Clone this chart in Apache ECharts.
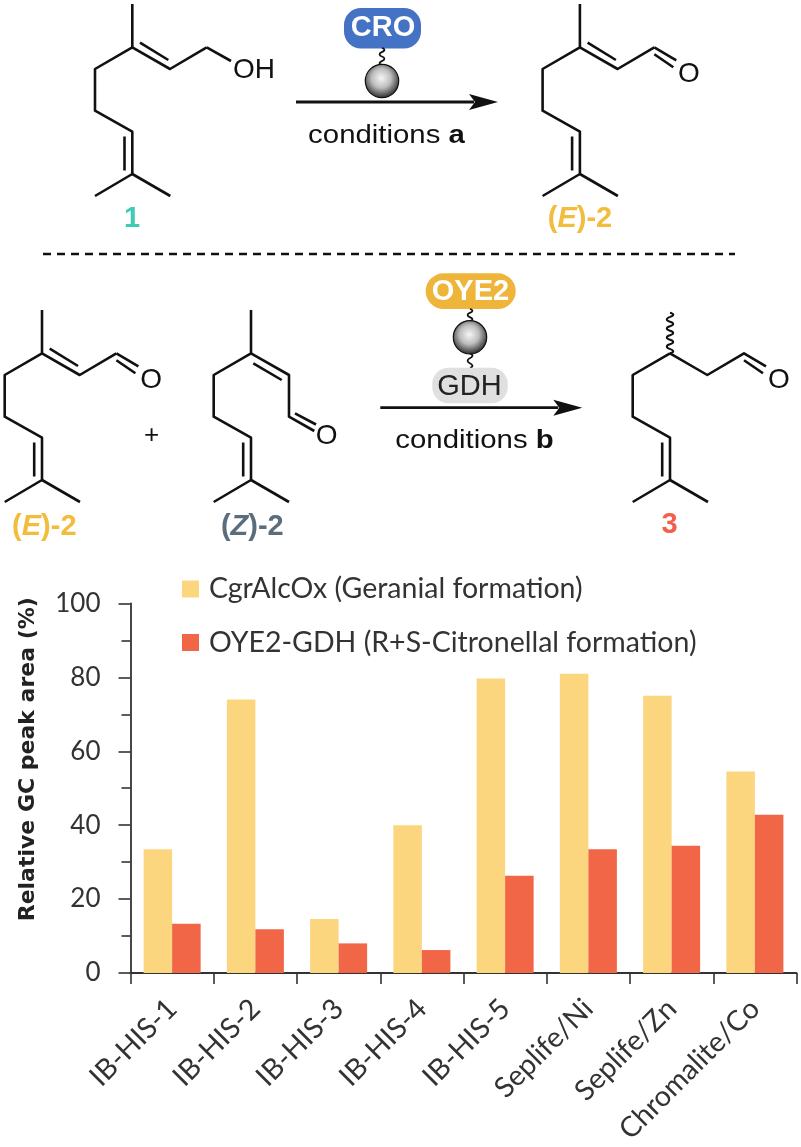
<!DOCTYPE html>
<html><head><meta charset="utf-8">
<style>html,body{margin:0;padding:0;background:#fff}#c{width:801px;height:1147px}</style>
<script src="https://cdn.jsdelivr.net/npm/echarts@6/dist/echarts.min.js"></script>
</head><body><div id="c"></div>
<script>
const categories = ['IB-HIS-1','IB-HIS-2','IB-HIS-3','IB-HIS-4','IB-HIS-5','Seplife/Ni','Seplife/Zn','Chromalite/Co'];
const cgrAlcOx = [33.5,74,14.6,40,79.7,81,75,54.5];
const oye2Gdh = [13.3,11.8,8,6.2,26.3,33.5,34.4,42.8];
const seriesNames = ['CgrAlcOx (Geranial formation)','OYE2-GDH (R+S-Citronellal formation)'];
const yTitle = 'Relative GC peak area (%)';

const INK='#111', SANS='"Liberation Sans",Arial,sans-serif', UI='Lato,sans-serif';
const g=[];
function line(pts,w,color){g.push({type:'polyline',silent:true,shape:{points:pts},style:{stroke:color||INK,lineWidth:w||2.6,fill:null,lineJoin:'round'}});}
function txt(x,y,t,font,fill,extra){g.push({type:'text',silent:true,x:x,y:y,style:Object.assign({text:t,font:font,fill:fill||INK,align:'center',verticalAlign:'middle'},extra||{})});}
function wavy(x,y1,y2,n,amp,w){const pts=[[x,y1]];const s=(y2-y1)/n;for(let i=0;i<n;i++){pts.push([x+(i%2?-1:1)*amp,y1+s*(i+.5)]);}pts.push([x,y2]);
 g.push({type:'polyline',silent:true,shape:{points:pts,smooth:0.6},style:{stroke:INK,lineWidth:w||1.8,fill:null}});}
function ball(cx,cy,r){g.push({type:'circle',silent:true,shape:{cx:cx,cy:cy,r:r},style:{stroke:'#111',lineWidth:1.2,fill:{type:'radial',x:.48,y:.42,r:.62,colorStops:[{offset:0,color:'#f6f6f6'},{offset:.45,color:'#bdbdbd'},{offset:.82,color:'#4a4a4a'},{offset:1,color:'#111'}]}}});}
function pill(x0,y0,x1,y1,r,fill){g.push({type:'rect',silent:true,shape:{x:x0,y:y0,width:x1-x0,height:y1-y0,r:r},style:{fill:fill}});}
function arrow(x0,x1,y,head){line([[x0,y],[x1-head+4,y]],2.8);g.push({type:'polygon',silent:true,shape:{points:[[x1,y],[x1-head-1,y-8],[x1-head+5,y],[x1-head-1,y+8]]},style:{fill:INK}});}
function cond(x,y,letter){g.push({type:'text',silent:true,x:x,y:y,scaleX:1.13,style:{text:'{r|conditions }{b|'+letter+'}',align:'center',verticalAlign:'middle',rich:{r:{font:'26px '+SANS,fill:INK},b:{font:'bold 26px '+SANS,fill:INK}}}});}
function lab(x,y,a,b,c,color){g.push({type:'text',silent:true,x:x,y:y,style:{text:'{n|'+a+'}{i|'+b+'}{n|'+c+'}',align:'center',verticalAlign:'middle',rich:{n:{font:'bold 29px '+SANS,fill:color},i:{font:'italic bold 29px '+SANS,fill:color}}}});}

function chain(dx,dy,hasMethyl){
 const pts=[[132.3+dx,47.3+dy],[95+dx,69+dy],[95+dx,110.7+dy],[132.3+dx,131.7+dy],[132.3+dx,174+dy],[95+dx,196+dy]];
 if(hasMethyl)pts.unshift([132.3+dx,4+dy]);
 line(pts);
 line([[132.3+dx,174+dy],[170.3+dx,196+dy]]);
 line([[124.5+dx,136.5+dy],[124.5+dx,170.5+dy]]);
}
function eTail(dx,dy){
 line([[132.3+dx,47.3+dy],[170+dx,69+dy],[206.7+dx,47.3+dy]]);
 line([[140+dx,42.7+dy],[168.3+dx,60+dy]]);
}
function cho(x,y){
 line([[x,y],[x+22,y+13]]);
 line([[x,y+7],[x+19,y+20]]);
 txt(x+34.7,y+26.7,'O','28px '+SANS);
}
// top row
chain(0,0,true);eTail(0,0);line([[206.7,47.3],[231,61]]);
txt(254,70,'OH','28px '+SANS);
chain(447.6,0,true);eTail(447.6,0);cho(654.3,47.3);
pill(344,8,421,48.5,17,'#4472C4');txt(383,28,'CRO','bold 29px '+SANS,'#fff');
wavy(382,48,65,4,2.4);ball(382,81,16.7);
arrow(296,498,102,28);
cond(386.5,135.7,'a');
txt(132,219,'1','bold 29px '+SANS,'#3FCBB5');
lab(580,219,'(','E',')-2','#F2BC3C');
g.push({type:'line',silent:true,shape:{x1:43,y1:254,x2:735,y2:254},style:{stroke:INK,lineWidth:2.4,lineDash:[8,6]}});

// second row
const dy2=306;
chain(-90.3,dy2,true);eTail(-90.3,dy2);cho(116.4,353.3);
txt(151.7,435.7,'+','26px '+SANS);
chain(118.7,dy2,true);
line([[251,353.3],[289,375],[289,416.7],[314.3,431]]);
line([[253.3,363.3],[281.7,380]]);
line([[295,413.3],[316,424.5]]);
txt(326.7,436.7,'O','28px '+SANS);
chain(537.7,dy2,false);
wavy(670,312.7,353.3,9,3.2,2);
line([[670,353.3],[707.3,375],[744,353.3],[766,366.3]]);
line([[744,360.3],[763,373.3]]);
txt(779,380,'O','28px '+SANS);
pill(425.7,273.3,515.7,309,18,'#EFB53A');txt(470.5,292,'OYE2','bold 29px '+SANS,'#fff');
wavy(470,309,321,3,2.4);ball(470,337.3,16.7);wavy(470,353.5,368,3,2.4);
pill(432.3,367.7,507.7,403.3,16,'#E0E0E0');txt(469.5,386.7,'GDH','29px '+SANS,'#222');
arrow(380.3,582.3,407.7,28);
cond(474.5,440.7,'b');
lab(44.3,526.7,'(','E',')-2','#F2BC3C');
lab(252.3,526.7,'(','Z',')-2','#5B6C7C');
txt(669.5,525,'3','bold 29px '+SANS,'#F2604C');

const chart=echarts.init(document.getElementById('c'),null,{renderer:'canvas'});
chart.setOption({
 animation:false,
 backgroundColor:'#fff',
 graphic:{elements:g},
 legend:{left:182,top:574.5,padding:0,orient:'vertical',itemWidth:17,itemHeight:17,itemGap:24.5,selectedMode:false,
  icon:'rect',textStyle:{fontFamily:UI,fontSize:28.5,color:'#333',padding:[0,0,0,5]},data:seriesNames},
 grid:{left:130.5,right:4.5,top:603.5,bottom:173,containLabel:false},
 xAxis:{type:'category',data:categories,
  axisLine:{lineStyle:{color:'#333',width:1.8}},
  axisTick:{show:true,length:11,alignWithLabel:false,lineStyle:{color:'#333',width:1.6}},
  axisLabel:{rotate:45,fontFamily:UI,fontSize:28.5,color:'#333',interval:0,margin:31,hideOverlap:false},
  splitLine:{show:false}},
 yAxis:{type:'value',min:0,max:100,interval:20,
  name:yTitle,nameLocation:'middle',nameGap:91,nameRotate:90,
  nameTextStyle:{fontFamily:'"DejaVu Sans",sans-serif',fontWeight:'bold',fontSize:22,color:'#222',padding:[0,0,0,58]},
  axisLine:{show:true,lineStyle:{color:'#333',width:1.8}},
  axisTick:{show:true,length:12,lineStyle:{color:'#333',width:1.6}},
  minorTick:{show:true,splitNumber:2,length:9,lineStyle:{color:'#333',width:1.6}},
  axisLabel:{fontFamily:UI,fontSize:26,color:'#333',margin:30},
  splitLine:{show:false},minorSplitLine:{show:false}},
 series:[
  {name:seriesNames[0],type:'bar',data:cgrAlcOx,barGap:0,barCategoryGap:'31.5%',itemStyle:{color:'#FCD57F'},z:3},
  {name:seriesNames[1],type:'bar',data:oye2Gdh,itemStyle:{color:'#F26648'},z:3}
 ]
});
</script></body></html>
